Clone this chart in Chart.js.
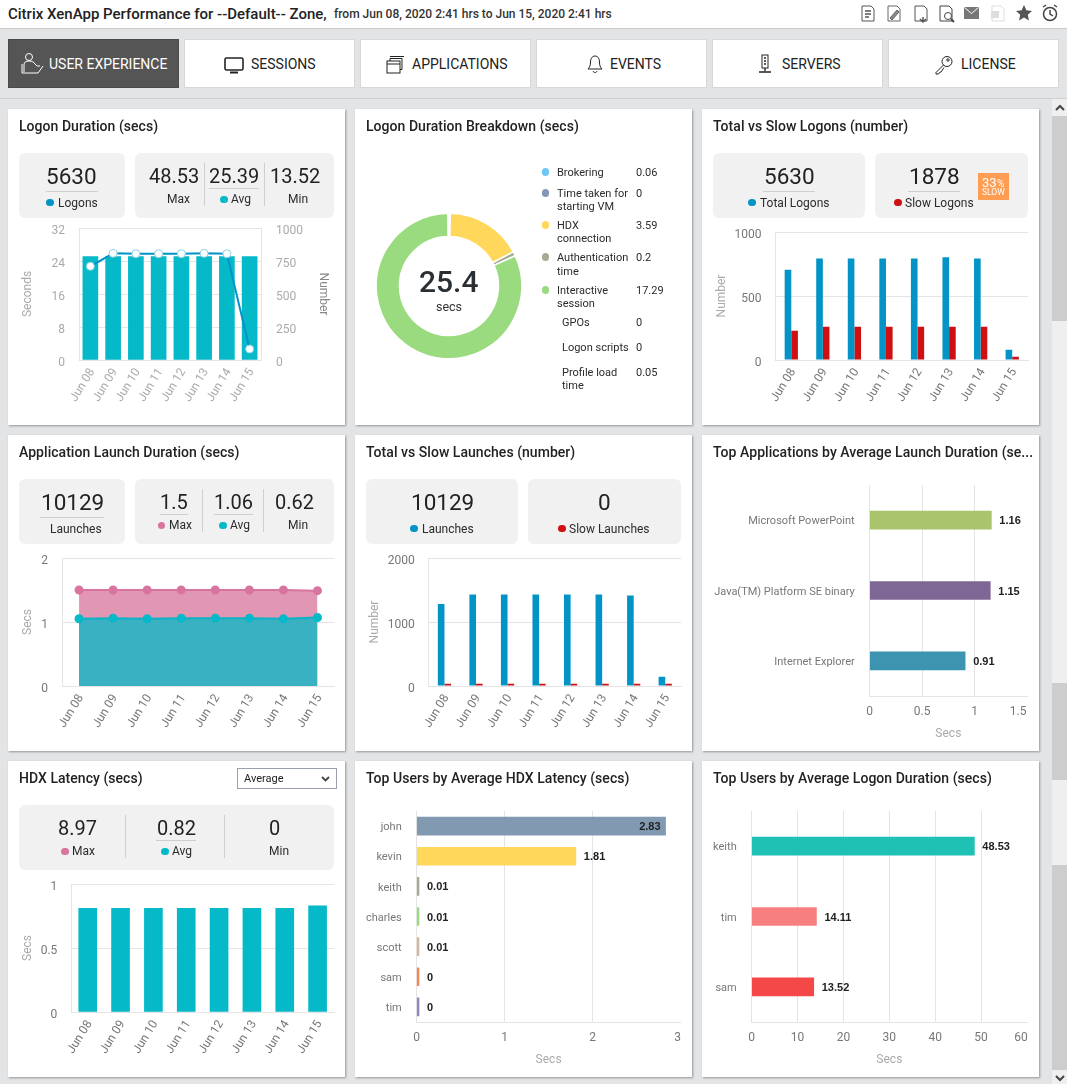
<!DOCTYPE html>
<html><head><meta charset="utf-8">
<script src="https://cdn.jsdelivr.net/npm/chart.js@4"></script>
<style>
html,body{margin:0;padding:0;width:1067px;height:1084px;overflow:hidden;background:#e3e4e6;font-family:Roboto,sans-serif;color:#222}
.abs{position:absolute;white-space:nowrap}
.card{position:absolute;background:#fff;box-shadow:1px 1px 2px rgba(0,0,0,.35)}
.kpi{position:absolute;background:#f1f1f1;border-radius:6px}
canvas{position:absolute;display:block}
svg{position:absolute;overflow:visible}
</style></head><body>
<script>
const dates=['Jun 08','Jun 09','Jun 10','Jun 11','Jun 12','Jun 13','Jun 14','Jun 15'];
const logonSeconds=[25.1,25.1,25.1,25.1,25.1,25.1,25.1,25.1];
const logonNumber=[710,808,805,805,805,808,805,83];
const totalLogons=[706,792,792,792,792,802,792,81];
const slowLogons=[229,260,260,260,260,260,260,26];
const launchMax=[1.5,1.5,1.5,1.5,1.5,1.5,1.5,1.49];
const launchAvg=[1.05,1.06,1.05,1.06,1.06,1.06,1.05,1.07];
const totalLaunches=[1280,1430,1430,1430,1430,1430,1415,146];
const slowLaunches=[36,36,36,36,36,36,36,36];
const hdxLatency=[0.81,0.81,0.81,0.81,0.81,0.81,0.81,0.83];
const appNames=['Microsoft PowerPoint','Java(TM) Platform SE binary','Internet Explorer'];
const appValues=[1.16,1.15,0.91];
const hdxUsers=['john','kevin','keith','charles','scott','sam','tim'];
const hdxUserValues=[2.83,1.81,0.01,0.01,0.01,0,0];
const logonUsers=['keith','tim','sam'];
const logonUserValues=[48.53,14.11,13.52];
const breakdownNames=['Brokering','Time taken for starting VM','HDX connection','Authentication time','Interactive session','GPOs','Logon scripts','Profile load time'];
const breakdownValues=[0.06,0,3.59,0.2,17.29,0,0,0.05];
const breakdownColors=['#6ec6f7','#8399b2','#ffd75a','#a6ac91','#9bdb80','#9bdb80','#9bdb80','#9bdb80'];
const appColors=['#a9c46c','#7f6795','#3c94b0'];
const hdxUserColors=['#8299b2','#ffd75a','#a6ac91','#9bdb80','#d4b89b','#f5894d','#8a8ac0'];
const logonUserColors=['#1fc1b5','#f87f7f','#f44848'];

const BLUE='#0394c7',RED='#d01010',TEAL='#05b9c9',PINK='#d9739f',GRID='#e4e4e4';
const colX=[8,355,702],rowY=[109,435,761],CW=337,CH=316;

function box(cls,x,y,w,h,bg){const d=document.createElement('div');d.className=cls;d.style.cssText+=`left:${x}px;top:${y}px;width:${w}px;height:${h}px;`+(bg?`background:${bg};`:'');document.body.appendChild(d);return d;}
function T(x,y,t,css,al){const d=document.createElement('div');d.className='abs';d.textContent=t;d.style.cssText+=css||'';document.body.appendChild(d);
 const r=d.getBoundingClientRect();let L=x;if(al==='c')L=x-r.width/2;if(al==='r')L=x-r.width;d.style.left=Math.round(L)+'px';d.style.top=Math.round(y-r.height/2)+'px';d.style.zIndex=5;return d;}
function dot(x,y,c,r){r=r||3.7;const d=box('abs',x-r,y-r,2*r,2*r,c);d.style.borderRadius='50%';d.style.zIndex=5;}
function line(x1,y1,x2,y2,c){const d=box('abs',x1,y1,Math.max(x2-x1,1),Math.max(y2-y1,1),c||'#cfcfcf');d.style.zIndex=5;}
const TITLE='font-size:14px;font-weight:500;color:#222;letter-spacing:.04px;';
function title(c,r,t){T(colX[c]+11,rowY[r]+17,t,TITLE);}
function big(x,y,t,s){T(x,y,t,`font-size:${s||20}px;color:#222;`,'c');}
function lab(x,y,t,s,al){T(x,y,t,`font-size:${s||12}px;color:#2b2b2b;`,al);}
function svg(x,y,w,h,inner,col){const n=document.createElementNS('http://www.w3.org/2000/svg','svg');n.setAttribute('width',w);n.setAttribute('height',h);n.setAttribute('viewBox',`0 0 ${w} ${h}`);n.style.left=x+'px';n.style.top=y+'px';n.style.zIndex=5;n.setAttribute('fill','none');n.setAttribute('stroke',col||'#222');n.innerHTML=inner;document.body.appendChild(n);}

/* header */
box('abs',0,0,1067,28,'#fff');line(0,28,1067,29,'#c9c9c9');
T(8,14,'Citrix XenApp Performance for --Default-- Zone,','font-size:15px;font-weight:500;color:#222;');
T(334,14,'from Jun 08, 2020 2:41 hrs to Jun 15, 2020 2:41 hrs','font-size:12px;font-weight:500;color:#333;');
const doc='<path d="M2 1h9l3 3v12H2z"/>';
svg(860,5,16,18,doc+'<path d="M5 6h6M5 9h6M5 12h4" stroke-width="1.5"/>','#555');
svg(886,5,16,18,doc+'<path d="M4 13l7-8 2 2-7 8z" fill="#888"/>','#666');
svg(913,5,16,18,doc+'<path d="M10 12v5M7 14l3 3 3-3" stroke-width="1.5"/>','#555');
svg(938,5,16,18,doc+'<circle cx="10" cy="11" r="3.5" fill="#fff"/><path d="M13 14l3 3" stroke-width="2"/>','#444');
svg(964,7,15,13,'<rect x=".5" y=".5" width="14" height="11" fill="#777"/><path d="M.5.5l7 6 7-6" stroke="#fff"/>','#777');
svg(990,5,16,18,doc+'<rect x="1" y="6" width="8" height="7" fill="#ddd" stroke="none"/>','#ddd');
svg(1016,5,16,16,'<path d="M8 0l2.4 5.3 5.6.6-4.2 3.8 1.2 5.7L8 12.5 3 15.4l1.2-5.7L0 5.9l5.6-.6z" fill="#555" stroke="none"/>');
svg(1042,4,16,18,'<circle cx="8" cy="10" r="6.5" stroke-width="1.5"/><path d="M8 6v4l3 2M1 3l3-2M15 3l-3-2" stroke-width="1.5"/>','#444');

/* nav */
line(0,98,1067,99,'#cfcfcf');
const navs=[['USER EXPERIENCE',8,49],['SESSIONS',184,251],['APPLICATIONS',360,412],['EVENTS',536,610],['SERVERS',712,782],['LICENSE',888,961]];
navs.forEach((n,i)=>{const b=box('abs',n[1],39,171,49,i?'#fff':'#555');b.style.boxShadow='inset 0 0 0 1px '+(i?'#d8d8d8':'#4a4a4a');
 T(n[2],63.5,n[0],`font-size:14px;color:${i?'#222':'#fff'};`);});
svg(20,52,26,24,'<circle cx="9" cy="5" r="3.5"/><path d="M4 20v-7c0-3 2-4 5-4s5 1 6 3l2 2h3M2 21h16l5-7M2 21v-9"/>','#fff');
svg(224,57,20,17,'<rect x="1" y="1" width="18" height="12" rx="1.5" stroke-width="1.6"/><path d="M6 15.5h8" stroke-width="2"/>');
svg(386,55,18,19,'<rect x="1" y="6" width="13" height="12"/><path d="M4 6V3.5h12v11h-2M4 1.5h14" /><path d="M1 9h13"/>');
svg(586,54,18,20,'<path d="M9 2c3 0 4.500 3 4.500 6s.5 5 2.500 7H2c2-2 2.500-4 2.500-7S6 2 9 2zM7 17c.5 2 3.500 2 4 0"/>');
svg(758,54,14,20,'<rect x="4" y="1" width="6" height="13"/><path d="M6 4h2M6 7h2M6 10h2M7 14v3M1 18h12" stroke-width="1.4"/>');
svg(934,55,20,20,'<circle cx="13" cy="6.500" r="5"/><path d="M9.500 10L2 17.500v1.500h2.500l1-1.500 1.500-.5L10 12.500"/><circle cx="14" cy="5" r="1.200"/>');

/* scrollbar */
box('abs',1052,99,15,985,'#efefef');
[[116,321],[683,780],[865,1070]].forEach(s=>box('abs',1052,s[0],15,s[1]-s[0],'#cdcdcd'));
svg(1055,105,10,6,'<path d="M1 5l4-4 4 4" stroke-width="2"/>','#444');
svg(1055,1075,10,6,'<path d="M1 1l4 4 4-4" stroke-width="2"/>','#444');

/* cards */
rowY.forEach(y=>colX.forEach(x=>box('card',x,y,CW,CH)));
[[19,153,106,65],[135,153,199,65],[713,153,152,65],[875,153,153,65],
 [19,479,106,65],[135,479,199,65],[366,479,152,65],[528,479,153,65],
 [19,805,315,65]].forEach(b=>{box('kpi',b[0],b[1],b[2],b[3]).style.zIndex=2;});

title(0,0,'Logon Duration (secs)');title(1,0,'Logon Duration Breakdown (secs)');title(2,0,'Total vs Slow Logons (number)');
title(0,1,'Application Launch Duration (secs)');title(1,1,'Total vs Slow Launches (number)');
T(713,rowY[1]+17,'Top Applications by Average Launch Duration (se...',TITLE);
title(0,2,'HDX Latency (secs)');title(1,2,'Top Users by Average HDX Latency (secs)');title(2,2,'Top Users by Average Logon Duration (secs)');

/* KPI: card 1 */
big(71.7,176,'5630',22.5);line(46,191,98,192);dot(50,202.700,BLUE);lab(58,202.700,'Logons',12);
big(174,176,'48.53');lab(178,199.300,'Max',12,'c');line(204,163,205,206);
big(234,176,'25.39');line(209,188,259,189);dot(224,199.300,TEAL);lab(231,199.300,'Avg');line(264,163,265,206);
big(294.700,176,'13.52');lab(298,199.300,'Min',12,'c');
/* card 3 */
big(789,176,'5630',22.5);line(763,191,815,192);dot(752,202.700,BLUE);lab(760,202.700,'Total Logons',12);
big(934,176,'1878',22.5);line(908,191,960,192);dot(898,202.700,RED);lab(905,202.700,'Slow Logons',12);
const bd=box('abs',978,173,31,27,'#ff9d52');bd.style.zIndex=5;
T(997,182,'33','font-size:13px;color:#fff;','r');T(997,183,'%','font-size:10px;color:#fff;');T(993.500,192,'SLOW','font-size:8.500px;color:#fff;','c');
/* card 4 */
big(72.300,502,'10129',22.5);line(40,517,104,518);lab(76,528.700,'Launches',12,'c');
big(174,502,'1.5');line(160,514,188,515);dot(161.700,525.300,PINK);lab(169,525.300,'Max');line(202,489,203,532);
big(233.300,502,'1.06');line(214,514,253,515);dot(223,525.300,TEAL);lab(230,525.300,'Avg');line(263,489,264,532);
big(294.700,502,'0.62');lab(298,525.300,'Min',12,'c');
/* card 5 */
big(442.300,502,'10129',22.5);dot(414,528.700,BLUE);lab(422,528.700,'Launches',12);
big(604,502,'0',22.5);dot(562,528.700,RED);lab(569,528.700,'Slow Launches',12);
/* card 7 */
big(77,828,'8.97');dot(65,851.300,PINK);lab(72.300,851.300,'Max');line(125,815,126,858);
big(176,828,'0.82');line(156,840,196,841);dot(165,851.300,TEAL);lab(172.300,851.300,'Avg');line(224,815,225,858);
big(275,828,'0');lab(279.300,851.300,'Min',12,'c');
const sel=box('abs',237,768,98,19,'#fff');sel.style.border='1px solid #9aa1ad';sel.style.zIndex=5;
T(244,778,'Average','font-size:11px;color:#222;');
svg(321,776,9,6,'<path d="M1 1l3.500 3.500L8 1" stroke-width="1.800"/>','#444');

/* breakdown legend */
const legendRows=[[172,545.700],[193,545.700,206],[225,545.700,238],[257,545.700,271],[290,545.700,303],[322],[347],[372,0,385]];
const legendLines=[['Brokering'],['Time taken for','starting VM'],['HDX','connection'],['Authentication','time'],['Interactive','session'],['GPOs'],['Logon scripts'],['Profile load','time']];
legendRows.forEach((r,i)=>{const sub=i>4,x=sub?562:557,st='font-size:11px;color:#2b2b2b;';
 if(!sub)dot(545.700,r[0],breakdownColors[i]);
 T(x,r[0],legendLines[i][0],st);
 if(legendLines[i][1])T(x,r[2],legendLines[i][1],st);
 T(636,r[0],String(breakdownValues[i]),st);});
T(449,281,'25.4','font-size:30px;font-weight:500;color:#2a2f33;','c');
T(449,306,'secs','font-size:12.500px;color:#333;','c');

/* charts */
Chart.defaults.font.family='Roboto';Chart.defaults.font.size=12;Chart.defaults.animation=false;
const zero=s=>{s.paddingLeft=s.paddingRight=s.paddingTop=s.paddingBottom=0;};
const valueLabels={id:'valueLabels',afterDatasetsDraw(ch){const o=ch.options.plugins.valueLabels;if(!o||!o.on)return;
 const c=ch.ctx,m=ch.getDatasetMeta(0),vals=ch.data.datasets[0].data;c.save();c.font='bold 11px "Liberation Sans"';c.fillStyle='#222';c.textBaseline='middle';
 m.data.forEach((el,i)=>{const s=String(vals[i]),w=c.measureText(s).width;let x=el.x+8;c.textAlign='left';
  if(x+w>ch.chartArea.right){x=el.x-5;c.textAlign='right';}
  c.fillText(s,x,el.y+1);});c.restore();}};

function vAxis(o){return {position:o.pos||'left',min:0,max:o.max,
 ticks:{stepSize:o.step,color:o.color||'#777',padding:o.pos==='right'?15:14,labelOffset:2.500,callback:v=>String(v)},
 grid:{display:o.grid!==false,color:GRID,drawTicks:false},border:{display:true,color:GRID},
 title:{display:true,text:o.title,color:o.tcolor||'#aaa',font:{size:12},padding:{top:o.pos==='right'?15:13,bottom:0}},
 afterFit(s){s.width=o.width;zero(s);}};}
function xCat(o){return {type:'category',offset:true,
 ticks:{autoSkip:false,minRotation:58,maxRotation:58,color:o.color||'#777',padding:6,labelOffset:2},
 grid:{display:false,drawTicks:false},border:{display:true,color:GRID},
 afterFit(s){s.height=o.height;zero(s);}};}
function hChart(c,r,plot,labels,vals,colors,max,step){
 const cx=colX[c],cy=rowY[r];
 const last=(max);
 mk(cx,cy,plot,false,{type:'bar',data:{labels,datasets:[{data:vals,backgroundColor:colors,barThickness:18,minBarLength:2.300}]},
  options:{indexAxis:'y',plugins:{valueLabels:{on:true}},scales:{
   x:{min:0,max,position:'bottom',ticks:{stepSize:step,color:'#777',padding:9,minRotation:0,maxRotation:0,autoSkip:false,
      callback:v=>v===last?v+String(v).replace(/./g,'  '):String(v)},
      grid:{color:x=>x.tick&&x.tick.value===last?'transparent':GRID,drawTicks:false},border:{display:true,color:GRID},
      title:{display:true,text:'Secs',color:'#aaa',font:{size:12},padding:{top:0,bottom:10}},
      afterFit(s){s.height=cy+CH-plot.b;zero(s);}},
   y:{type:'category',ticks:{color:'#777',font:{size:11},padding:15,autoSkip:false,labelOffset:1.500},grid:{display:false,drawTicks:false},border:{display:true,color:GRID},
      afterFit(s){s.width=plot.l-cx;zero(s);}}}}});
}
function mk(cx,cy,plot,rightAxis,cfg){
 const cv=document.createElement('canvas');cv.width=CW;cv.height=CH;cv.style.left=cx+'px';cv.style.top=cy+'px';cv.style.zIndex=3;document.body.appendChild(cv);
 cfg.plugins=[valueLabels];
 cfg.options=Object.assign({responsive:false,devicePixelRatio:1,layout:{padding:{top:plot.t-cy,right:rightAxis?0:cx+CW-plot.r,left:0,bottom:0}}},cfg.options);
 cfg.options.plugins=Object.assign({legend:{display:false},tooltip:{enabled:false}},cfg.options.plugins||{});
 return new Chart(cv,cfg);
}
function px(c,r,l,t,rr,b){return {l,t,r:rr,b,cx:colX[c],cy:rowY[r]};}

/* 1 Logon Duration */
let p=px(0,0,79,228,261,360);
mk(8,109,p,true,{type:'bar',data:{labels:dates,datasets:[
  {type:'line',data:logonNumber,yAxisID:'y2',borderColor:BLUE,borderWidth:2,tension:0,pointRadius:4,pointBorderWidth:1,pointBackgroundColor:'#fff',pointBorderColor:'#8fd0e6',order:0},
  {type:'bar',data:logonSeconds,yAxisID:'y',backgroundColor:'#05b9c9',barThickness:15,order:1}]},
 options:{scales:{x:xCat({height:109+CH-360,color:'#aaa'}),
  y:vAxis({max:32,step:8,title:'Seconds',width:79-8,color:'#aaa'}),
  y2:vAxis({pos:'right',max:1000,step:250,title:'Number',width:345-261,color:'#aaa',grid:false,tcolor:'#888'})}}});

/* 2 Breakdown doughnut */
(function(){const R=72.800,cxx=449,cyy=286.300;
 const cv=document.createElement('canvas');cv.width=160;cv.height=160;cv.style.left=(cxx-80)+'px';cv.style.top=(cyy-80)+'px';cv.style.zIndex=3;document.body.appendChild(cv);
 new Chart(cv,{type:'doughnut',data:{labels:breakdownNames,datasets:[{data:breakdownValues,backgroundColor:breakdownColors,borderColor:'#fff',borderWidth:1.500}]},
  options:{responsive:false,devicePixelRatio:1,cutout:'68%',radius:R,layout:{padding:0},plugins:{legend:{display:false},tooltip:{enabled:false}}}});
})();

/* 3 Total vs slow logons */
p=px(2,0,775.500,232,1028,360);
mk(702,109,p,false,{type:'bar',data:{labels:dates,datasets:[
  {data:totalLogons,backgroundColor:BLUE,categoryPercentage:.42,barPercentage:1},
  {data:slowLogons,backgroundColor:RED,categoryPercentage:.42,barPercentage:1}]},
 options:{scales:{x:xCat({height:109+CH-360}),y:vAxis({max:1000,step:500,title:'Number',width:775.500-702})}}});

/* 4 App launch */
p=px(0,1,62,558,334.500,686);
mk(8,435,p,false,{type:'line',data:{labels:dates,datasets:[
  {data:launchAvg,fill:'origin',backgroundColor:'#3ab0c3',borderColor:'#0bb3c4',borderWidth:2,tension:0,pointRadius:3.500,pointBackgroundColor:TEAL,pointBorderColor:TEAL,order:0},
  {data:launchMax,fill:'origin',backgroundColor:'#e196b3',borderColor:PINK,borderWidth:2,tension:0,pointRadius:3.500,pointBackgroundColor:PINK,pointBorderColor:PINK,order:1}]},
 options:{scales:{x:xCat({height:435+CH-686}),y:vAxis({max:2,step:1,title:'Secs',width:62-8})}}});

/* 5 Total vs slow launches */
p=px(1,1,428.700,558,681,686);
mk(355,435,p,false,{type:'bar',data:{labels:dates,datasets:[
  {data:totalLaunches,backgroundColor:BLUE,categoryPercentage:.42,barPercentage:1},
  {data:slowLaunches,backgroundColor:RED,categoryPercentage:.42,barPercentage:1}]},
 options:{scales:{x:xCat({height:435+CH-686}),y:vAxis({max:2000,step:1000,title:'Number',width:428.700-355})}}});

/* 6 Top apps */
hChart(2,1,{l:869.700,t:485,r:1027,b:696},appNames,appValues,appColors,1.5,.5);

/* 7 HDX latency */
p=px(0,2,71.300,884,334,1012);
mk(8,761,p,false,{type:'bar',data:{labels:dates,datasets:[{data:hdxLatency,backgroundColor:'#05b9c9',barThickness:18}]},
 options:{scales:{x:xCat({height:761+CH-1012}),y:vAxis({max:1,step:.5,title:'Secs',width:71.300-8})}}});

/* 8, 9 Top users */
hChart(1,2,{l:416.700,t:811,r:680.500,b:1022},hdxUsers,hdxUserValues,hdxUserColors,3,1);
hChart(2,2,{l:751.700,t:811,r:1027,b:1022},logonUsers,logonUserValues,logonUserColors,60,10);
</script>
</body></html>
